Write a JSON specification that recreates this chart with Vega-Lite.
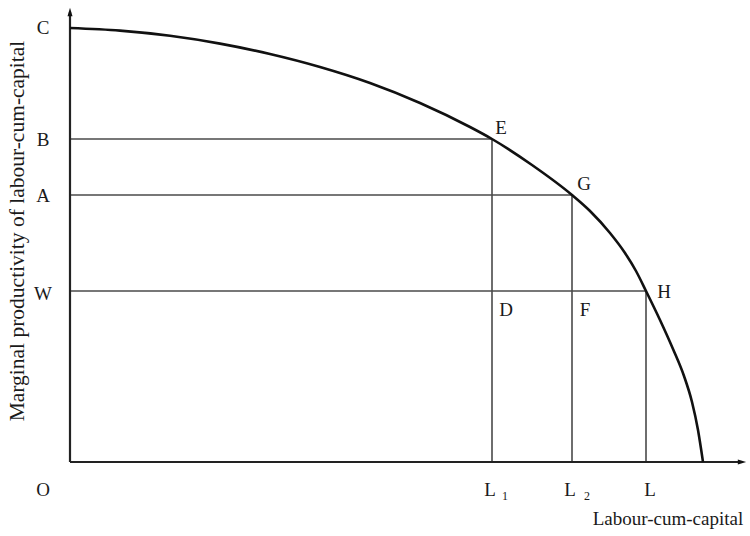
{
  "$schema": "https://vega.github.io/schema/vega-lite/v6.json",
  "width": 750,
  "height": 536,
  "autosize": {"type": "fit", "contains": "padding"},
  "padding": 0,
  "background": "white",
  "config": {"view": {"stroke": null}, "font": "Liberation Serif"},
  "datasets": {
    "curve": [
      {"x": 0, "y": 434}, {"x": 50, "y": 431.4}, {"x": 100, "y": 426.2}, {"x": 150, "y": 418.4},
      {"x": 200, "y": 408}, {"x": 250, "y": 395}, {"x": 300, "y": 379}, {"x": 350, "y": 359},
      {"x": 400, "y": 335}, {"x": 422, "y": 323}, {"x": 462, "y": 297}, {"x": 502, "y": 267},
      {"x": 520, "y": 251}, {"x": 540, "y": 229}, {"x": 555, "y": 209}, {"x": 566, "y": 191},
      {"x": 576, "y": 171}, {"x": 590, "y": 142}, {"x": 603, "y": 113}, {"x": 614, "y": 86},
      {"x": 622, "y": 60}, {"x": 628, "y": 32}, {"x": 633, "y": 0}
    ],
    "guides": [
      {"x": 0, "y": 323, "x2": 422, "y2": 323},
      {"x": 0, "y": 267, "x2": 502, "y2": 267},
      {"x": 0, "y": 171, "x2": 576, "y2": 171},
      {"x": 422, "y": 0, "x2": 422, "y2": 323},
      {"x": 502, "y": 0, "x2": 502, "y2": 267},
      {"x": 576, "y": 0, "x2": 576, "y2": 171}
    ],
    "axes": [
      {"x": 0, "y": 0, "x2": 0, "y2": 450},
      {"x": 0, "y": 0, "x2": 672, "y2": 0}
    ],
    "arrowUp": [{"x": 0, "y": 450}],
    "arrowRight": [{"x": 672, "y": 0}],
    "letters": [
      {"label": "C", "x": -27, "y": 434},
      {"label": "B", "x": -27, "y": 322},
      {"label": "A", "x": -27, "y": 266},
      {"label": "W", "x": -27, "y": 168},
      {"label": "O", "x": -27, "y": -28},
      {"label": "E", "x": 431, "y": 334},
      {"label": "G", "x": 514, "y": 278},
      {"label": "H", "x": 594, "y": 170},
      {"label": "D", "x": 436, "y": 152},
      {"label": "F", "x": 515, "y": 152},
      {"label": "L", "x": 420, "y": -28},
      {"label": "L", "x": 500, "y": -28},
      {"label": "L", "x": 580, "y": -28}
    ],
    "subs": [
      {"label": "1", "x": 435, "y": -34},
      {"label": "2", "x": 517, "y": -34}
    ],
    "titles": [
      {"label": "Labour-cum-capital", "x": 598, "y": -57}
    ],
    "ytitle": [
      {"label": "Marginal productivity of labour-cum-capital", "x": -52, "y": 231}
    ]
  },
  "layer": [
    {
      "data": {"name": "guides"},
      "mark": {"type": "rule", "color": "#4a4a4a", "strokeWidth": 1.6},
      "encoding": {
        "x": {"field": "x", "type": "quantitative", "scale": {"domain": [-70, 680], "nice": false, "zero": false}, "axis": null},
        "y": {"field": "y", "type": "quantitative", "scale": {"domain": [-74, 462], "nice": false, "zero": false}, "axis": null},
        "x2": {"field": "x2"},
        "y2": {"field": "y2"}
      }
    },
    {
      "data": {"name": "axes"},
      "mark": {"type": "rule", "color": "#222", "strokeWidth": 2.2},
      "encoding": {
        "x": {"field": "x", "type": "quantitative"},
        "y": {"field": "y", "type": "quantitative"},
        "x2": {"field": "x2"},
        "y2": {"field": "y2"}
      }
    },
    {
      "data": {"name": "arrowUp"},
      "mark": {"type": "point", "shape": "M-0.6,1L0,-1L0.6,1Z", "filled": true, "color": "#111", "size": 70, "opacity": 1},
      "encoding": {
        "x": {"field": "x", "type": "quantitative"},
        "y": {"field": "y", "type": "quantitative"}
      }
    },
    {
      "data": {"name": "arrowRight"},
      "mark": {"type": "point", "shape": "M-1,-0.6L1,0L-1,0.6Z", "filled": true, "color": "#111", "size": 70, "opacity": 1},
      "encoding": {
        "x": {"field": "x", "type": "quantitative"},
        "y": {"field": "y", "type": "quantitative"}
      }
    },
    {
      "data": {"name": "curve"},
      "mark": {"type": "line", "color": "#111", "strokeWidth": 2.6, "interpolate": "monotone"},
      "encoding": {
        "x": {"field": "x", "type": "quantitative"},
        "y": {"field": "y", "type": "quantitative"}
      }
    },
    {
      "data": {"name": "letters"},
      "mark": {"type": "text", "font": "Liberation Serif", "fontSize": 19, "color": "#1a1a1a", "align": "center", "baseline": "middle"},
      "encoding": {
        "x": {"field": "x", "type": "quantitative"},
        "y": {"field": "y", "type": "quantitative"},
        "text": {"field": "label"}
      }
    },
    {
      "data": {"name": "subs"},
      "mark": {"type": "text", "font": "Liberation Serif", "fontSize": 12, "color": "#1a1a1a", "align": "center", "baseline": "middle"},
      "encoding": {
        "x": {"field": "x", "type": "quantitative"},
        "y": {"field": "y", "type": "quantitative"},
        "text": {"field": "label"}
      }
    },
    {
      "data": {"name": "titles"},
      "mark": {"type": "text", "font": "Liberation Serif", "fontSize": 19, "color": "#1a1a1a", "align": "center", "baseline": "middle"},
      "encoding": {
        "x": {"field": "x", "type": "quantitative"},
        "y": {"field": "y", "type": "quantitative"},
        "text": {"field": "label"}
      }
    },
    {
      "data": {"name": "ytitle"},
      "mark": {"type": "text", "font": "Liberation Serif", "fontSize": 21.5, "color": "#1a1a1a", "align": "center", "baseline": "middle", "angle": 270},
      "encoding": {
        "x": {"field": "x", "type": "quantitative"},
        "y": {"field": "y", "type": "quantitative"},
        "text": {"field": "label"}
      }
    }
  ]
}
